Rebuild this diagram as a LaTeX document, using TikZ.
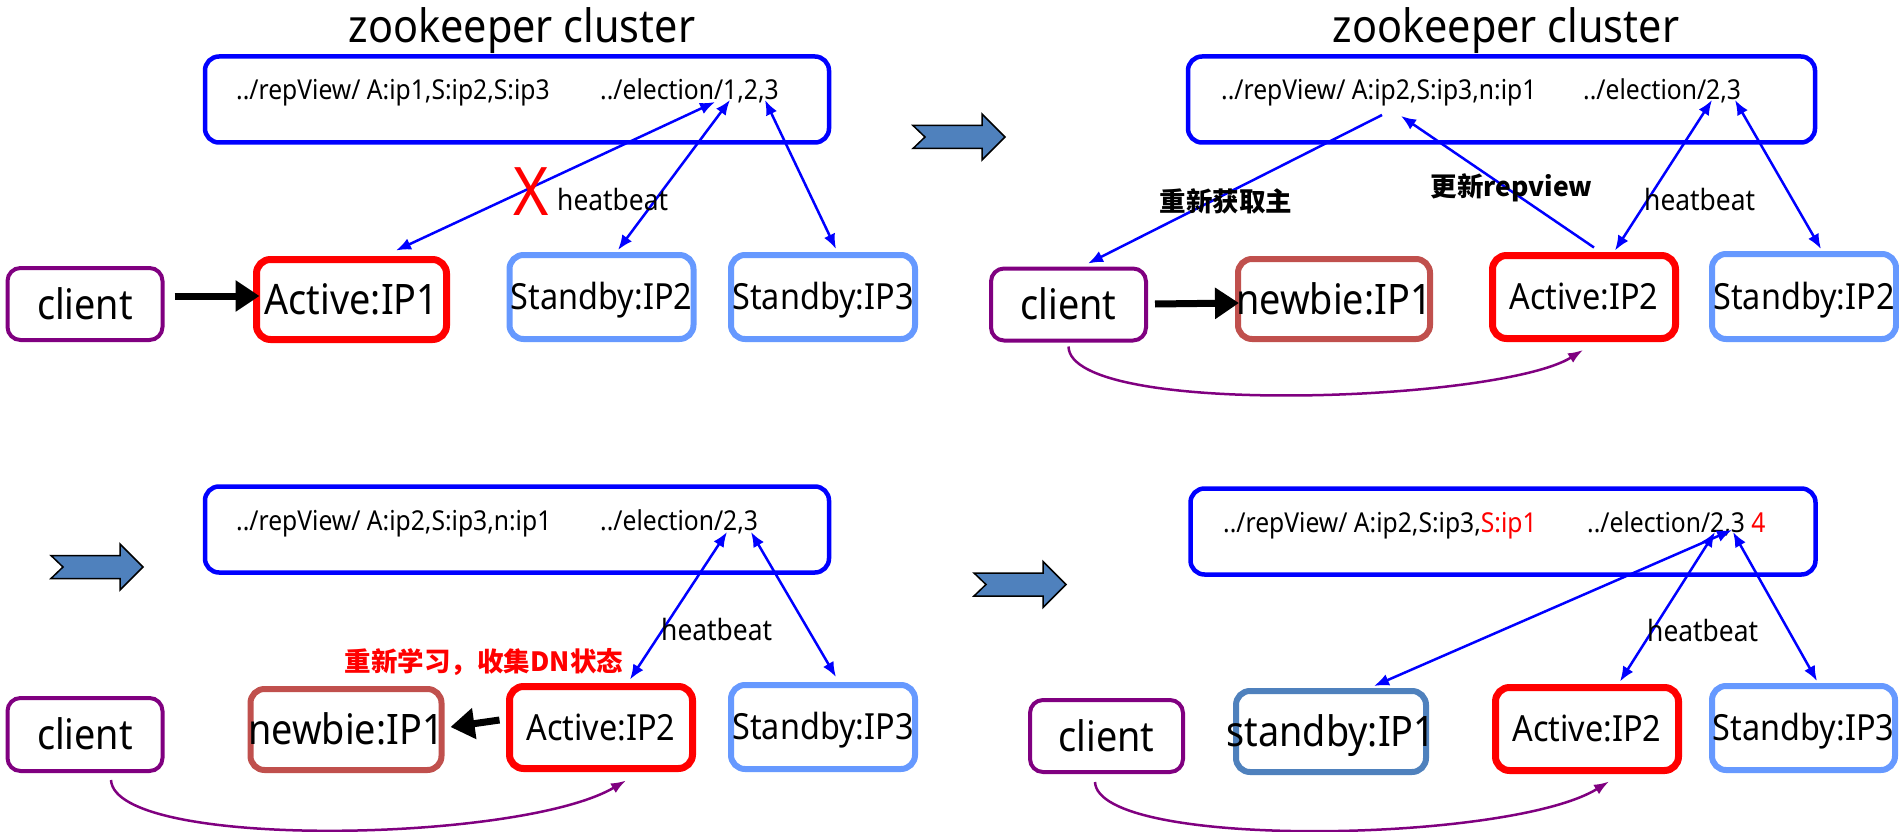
\documentclass[tikz,border=0pt]{standalone}
\usepackage{fontspec}
\setmainfont{Noto Sans}[FakeStretch=0.9]
\newfontfamily\cjk{Noto Sans CJK SC}
\usetikzlibrary{arrows.meta,calc}
\definecolor{zkblue}{RGB}{0,0,255}
\definecolor{actred}{RGB}{255,0,0}
\definecolor{sbblue}{RGB}{102,153,255}
\definecolor{clpurple}{RGB}{128,0,128}
\definecolor{nbred}{RGB}{192,80,77}
\definecolor{stblue}{RGB}{79,129,189}
\tikzset{
  zkbox/.style={draw=zkblue, line width=4.5pt, rounded corners=14pt, inner sep=0pt, minimum width=624pt, minimum height=86pt},
  clientbox/.style={draw=clpurple, line width=4pt, rounded corners=13pt, inner sep=0pt, minimum width=155pt, minimum height=72pt},
  activebox/.style={draw=actred, line width=7pt, rounded corners=14pt, inner sep=0pt},
  sbbox/.style={draw=sbblue, line width=6pt, rounded corners=14pt, inner sep=0pt, minimum width=184pt, minimum height=84pt},
  nbbox/.style={draw=nbred, line width=6pt, rounded corners=14pt, inner sep=0pt, minimum width=191pt, minimum height=81pt},
  stbox/.style={draw=stblue, line width=6pt, rounded corners=14pt, inner sep=0pt, minimum width=190pt, minimum height=81pt},
  biglbl/.style={inner sep=0pt, font=\fontsize{42}{46}\selectfont, text height=30pt, text depth=0pt},
  midlbl/.style={inner sep=0pt, font=\fontsize{36}{40}\selectfont, text height=25.7pt, text depth=0pt},
  titlelbl/.style={inner sep=0pt, anchor=base, font=\fontsize{46}{50}\selectfont},
  zktext/.style={inner sep=0pt, anchor=base west, font=\fontsize{27.4}{30}\selectfont},
  hblbl/.style={inner sep=0pt, anchor=base west, font=\fontsize{29.3}{32}\selectfont},
  cnlbl/.style={inner sep=0pt, font=\cjk\bfseries\fontsize{26.5}{30}\selectfont},
  hb/.style={draw=zkblue, line width=2.5pt, {Latex[length=15pt,width=12pt]}-{Latex[length=15pt,width=12pt]}},
  hbone/.style={draw=zkblue, line width=2.5pt, -{Latex[length=15pt,width=12pt]}},
  req/.style={draw=black, line width=7pt, -{Triangle[length=24pt,width=30pt]}},
  retry/.style={draw=clpurple, line width=2.5pt, -{Latex[length=15pt,width=11pt]}},
  chev/.pic={\draw[fill=stblue, draw=black, line width=1.5pt, line join=miter]
     (-46,-11.5) -- (23,-11.5) -- (23,-23) -- (46,0) -- (23,23) -- (23,11.5) -- (-46,11.5) -- (-34,0) -- cycle;}
}
\begin{document}
\begin{tikzpicture}[x=1pt,y=-1pt]
\path[use as bounding box, fill=white] (0,0) rectangle (1899,832);

% ================= Panel 1 =================
\node[titlelbl] (t1) at (522,43) {zookeeper cluster};
\node[zkbox] (zk1) at (517,99.5) {};
\node[zktext] (r1) at (236,100) {../repView/ A:ip1,S:ip2,S:ip3};
\node[zktext] (e1) at (600,100) {../election/1,2,3};
\node[clientbox] (c1) at (85,304) {};
\node[biglbl] (c1l) at (c1) {client};
\node[activebox, minimum width=190pt, minimum height=80pt] (a1) at (351.5,299.5) {};
\node[biglbl] (a1l) at (a1) {Active:IP1};
\node[sbbox] (s12) at (601.5,297) {};
\node[midlbl] (s12l) at (s12) {Standby:IP2};
\node[sbbox] (s13) at (823,297) {};
\node[midlbl] (s13l) at (s13) {Standby:IP3};
\coordinate (z1a) at (715,102);
\coordinate (z1b) at (730,100);
\coordinate (z1c) at (765,100);
\draw[hb] ($(a1.north)+(44.5,-5.5)$) -- (z1a);
\draw[hb] ($(s12.north)+(16.5,-2)$) -- (z1b);
\draw[hb] ($(s13.north)+(13,-3)$) -- (z1c);
\draw[req] ($(c1.east)+(10,-8)$) -- ($(a1.west)+(6.5,-3.5)$);
\node[inner sep=0pt, text=actred, font=\fontsize{67}{70}\selectfont, text height=48pt, text depth=0pt] (x1) at (531,191) {X};
\node[hblbl] (h1) at (557,210) {heatbeat};

\pic at (959,137) {chev};

% ================= Panel 2 =================
\node[titlelbl] (t2) at (1506,43) {zookeeper cluster};
\node[zkbox, minimum width=627pt] (zk2) at (1501.5,99.5) {};
\node[zktext] (r2) at (1221,100) {../repView/ A:ip2,S:ip3,n:ip1};
\node[zktext] (e2) at (1583,100) {../election/2,3};
\node[clientbox] (c2) at (1068.5,304.5) {};
\node[biglbl] (c2l) at (c2) {client};
\node[nbbox, minimum width=192pt, minimum height=80pt] (n2) at (1334,299) {};
\node[biglbl] (n2l) at (n2) {newbie:IP1};
\node[activebox, minimum width=183pt, minimum height=83pt] (a2) at (1584,297) {};
\node[midlbl] (a2l) at (a2) {Active:IP2};
\node[sbbox, minimum width=184pt, minimum height=85pt] (s22) at (1804,296.5) {};
\node[midlbl] (s22l) at (s22) {Standby:IP2};
\coordinate (z2r) at (1382,115);
\coordinate (z2u) at (1401,116);
\coordinate (z2a) at (1712,100);
\coordinate (z2b) at (1735,100);
\draw[hbone] (z2r) -- ($(c2.north)+(19.5,-3)$);
\draw[hbone] ($(a2.north)+(10,-4.5)$) -- (z2u);
\draw[hb] ($(a2.north)+(31,-1.5)$) -- (z2a);
\draw[hb] ($(s22.north)+(17,-2)$) -- (z2b);
\draw[req] ($(c2.east)+(7,-0.5)$) -- ($(n2.west)+(4,4)$);
\draw[retry] ($(c2.south)+(0,4)$) .. controls (1070,418) and (1500,402) .. ($(a2.south)+(-1,8)$);
\node[cnlbl] (g2) at (1226,201.5) {重新获取主};
\node[cnlbl] (u2) at (1511.5,187.5) {更新repview};
\node[hblbl] (h2) at (1644,210) {heatbeat};

% ================= Panel 3 =================
\pic at (97,567) {chev};
\node[zkbox] (zk3) at (517,529.5) {};
\node[zktext] (r3) at (236,530) {../repView/ A:ip2,S:ip3,n:ip1};
\node[zktext] (e3) at (600,530) {../election/2,3};
\node[clientbox, minimum height=73pt] (c3) at (85,734.5) {};
\node[biglbl] (c3l) at (c3) {client};
\node[nbbox] (n3) at (346,729.5) {};
\node[biglbl] (n3l) at (n3) {newbie:IP1};
\node[activebox, minimum width=183pt, minimum height=82pt] (a3) at (601,727.5) {};
\node[midlbl] (a3l) at (a3) {Active:IP2};
\node[sbbox] (s33) at (823,727) {};
\node[midlbl] (s33l) at (s33) {Standby:IP3};
\coordinate (z3a) at (727,532);
\coordinate (z3b) at (751,532);
\draw[hb] ($(a3.north)+(29,-3.5)$) -- (z3a);
\draw[hb] ($(s33.north)+(13,-5)$) -- (z3b);
\draw[req] ($(a3.west)+(-6.5,-7.5)$) -- ($(n3.east)+(6,-2.5)$);
\draw[retry] ($(c3.south)+(26,7)$) .. controls (115,850) and (520,843) .. ($(a3.south)+(25,8.5)$);
\node[hblbl] (h3) at (661,640) {heatbeat};
\node[cnlbl, text=actred] (l3) at (484,662.5) {重新学习，收集DN状态};

% ================= Panel 4 =================
\pic at (1020,584.5) {chev};
\node[zkbox, minimum width=625pt] (zk4) at (1503,531.5) {};
\node[zktext] (r4) at (1223,532) {../repView/ A:ip2,S:ip3,\textcolor{actred}{S:ip1}};
\node[zktext] (e4) at (1587,532) {../election/2,3 \textcolor{actred}{4}};
\node[clientbox, minimum width=153pt] (c4) at (1106.5,736) {};
\node[biglbl] (c4l) at (c4) {client};
\node[stbox] (st4) at (1331,731.5) {};
\node[biglbl] (st4l) at (st4) {standby:IP1};
\node[activebox, minimum width=183pt, minimum height=83pt] (a4) at (1587,729) {};
\node[midlbl] (a4l) at (a4) {Active:IP2};
\node[sbbox, minimum width=183pt] (s43) at (1803.5,728) {};
\node[midlbl] (s43l) at (s43) {Standby:IP3};
\coordinate (z4s) at (1732,530);
\coordinate (z4a) at (1715,532);
\coordinate (z4b) at (1733,532);
\draw[hb] ($(st4.north)+(43,-2)$) -- (z4s);
\draw[hb] ($(a4.north)+(33,-2.5)$) -- (z4a);
\draw[hb] ($(s43.north)+(13.5,-2)$) -- (z4b);
\draw[retry] ($(c4.south)+(-11.5,8)$) .. controls (1098,850) and (1510,843) .. ($(a4.south)+(22,7.5)$);
\node[hblbl] (h4) at (1647,641.5) {heatbeat};
\end{tikzpicture}
\end{document}
